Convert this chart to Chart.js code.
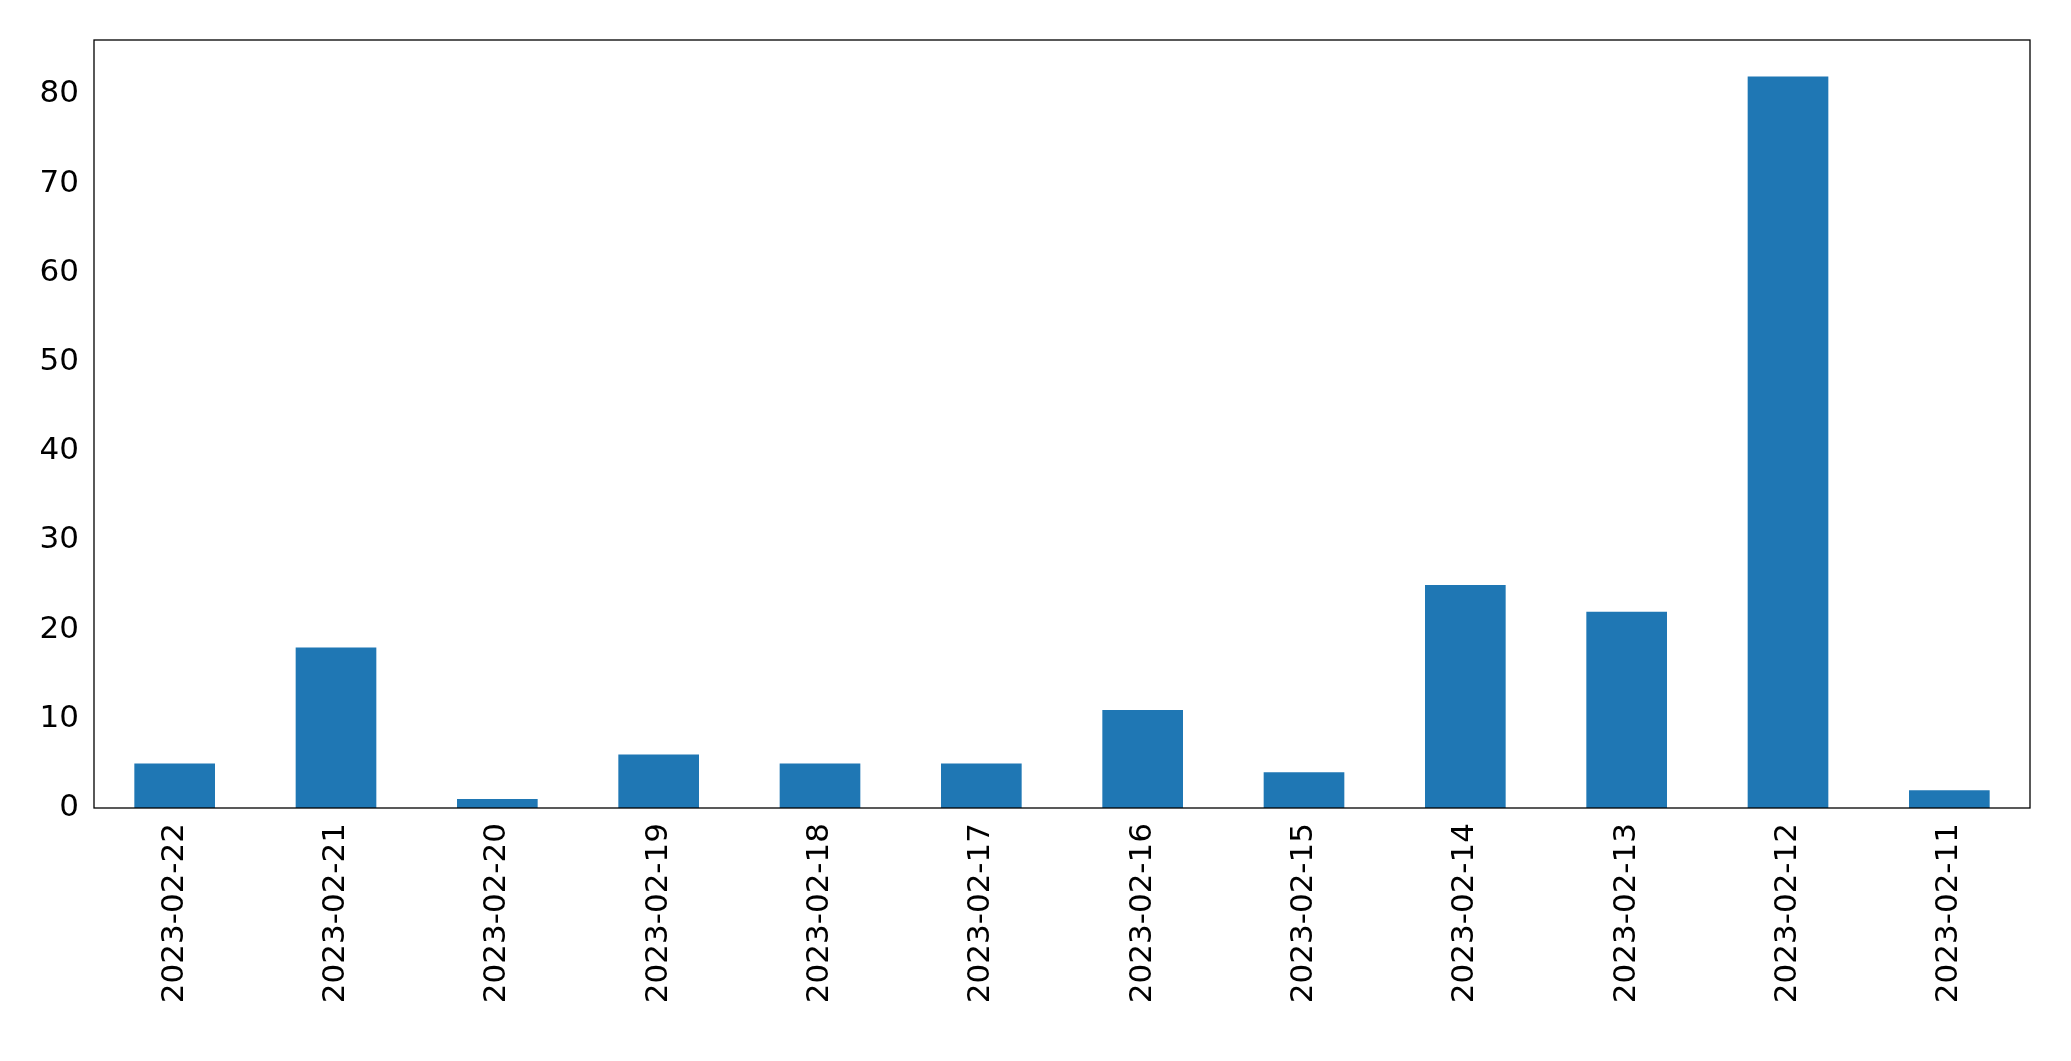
<!DOCTYPE html>
<html><head><meta charset="utf-8">
<script src="https://cdn.jsdelivr.net/npm/chart.js@4/dist/chart.umd.min.js"></script>
<style>html,body{margin:0;padding:0;background:#fff}#w{width:2071px;height:1061px}</style>
</head><body><div id="w"><canvas id="c"></canvas></div>
<script>
const categories = ["2023-02-22","2023-02-21","2023-02-20","2023-02-19","2023-02-18","2023-02-17","2023-02-16","2023-02-15","2023-02-14","2023-02-13","2023-02-12","2023-02-11"];
const counts = [5,18,1,6,5,5,11,4,25,22,82,2];
const yTicks = [0,10,20,30,40,50,60,70,80];
const frame = {id:'frame',afterDraw(ch){const a=ch.chartArea,x=ch.ctx;x.save();x.strokeStyle='#000';x.lineWidth=1.3;x.strokeRect(a.left,a.top,a.right-a.left,a.bottom-a.top);x.restore();}};
new Chart(document.getElementById('c'),{
type:'bar',
data:{labels:categories,datasets:[{data:counts,backgroundColor:'#1f77b4',categoryPercentage:1,barPercentage:0.5}]},
plugins:[frame],
options:{responsive:true,maintainAspectRatio:false,animation:false,
layout:{padding:{top:40,right:41,left:0,bottom:0}},
plugins:{legend:{display:false},tooltip:{enabled:false}},
scales:{
x:{grid:{display:false,drawTicks:true,tickLength:9,tickColor:'#000'},border:{display:false},
ticks:{color:'#000',font:{family:'DejaVu Sans',size:31},minRotation:90,maxRotation:90,padding:6},
afterFit(s){s.height=253;}},
y:{min:0,max:86.1,grid:{display:false,tickLength:9,tickColor:'#000'},border:{display:false},
afterBuildTicks(s){s.ticks=yTicks.map(v=>({value:v}));},
ticks:{color:'#000',font:{family:'DejaVu Sans',size:31},padding:6},
afterFit(s){s.width=94;}}
}}});
</script></body></html>
